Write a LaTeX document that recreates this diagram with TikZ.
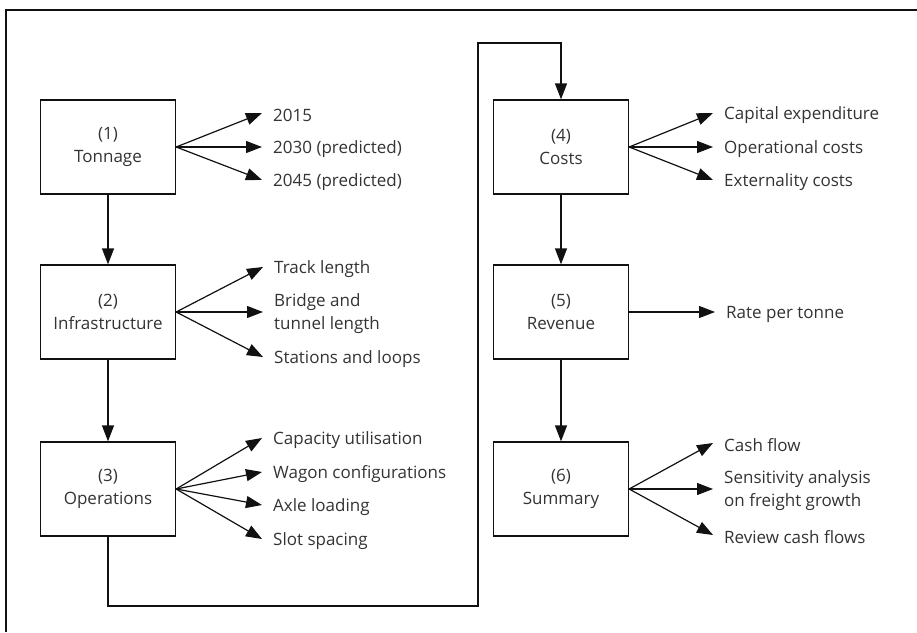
\documentclass[tikz,border=0pt]{standalone}
\usepackage{fontspec}
\setmainfont{Open Sans}
\usetikzlibrary{arrows.meta}
\definecolor{txt}{HTML}{333333}
\definecolor{ln}{HTML}{111111}
\begin{document}
\begin{tikzpicture}[x=1pt,y=-1pt,
  font=\fontsize{17}{23}\selectfont,
  stage/.style={draw=ln,line width=1.3pt,minimum width=135pt,minimum height=94pt,
    align=center,text=txt,inner sep=0pt},
  item/.style={anchor=west,align=left,text=txt,inner xsep=11pt,inner ysep=0pt,yshift=-2pt},
  arr/.style={draw=ln,line width=1.3pt,-{Triangle[length=16pt,width=12pt]}},
  fan/.style={draw=ln,line width=1.2pt,-{Triangle[length=16pt,width=12pt]}}]
\useasboundingbox (0,0) rectangle (917,632);
% frame
\draw[ln,line width=1.4pt] (6,632) -- (6,10) -- (917,10);

% stages
\node[stage] (b1) at (108,147) {(1)\\Tonnage};
\node[stage] (b2) at (108,312) {(2)\\Infrastructure};
\node[stage] (b3) at (108,489) {(3)\\Operations};
\node[stage] (b4) at (561,147) {(4)\\Costs};
\node[stage] (b5) at (561,312) {(5)\\Revenue};
\node[stage] (b6) at (561,489) {(6)\\Summary};

% items
\node[item] (t11) at (262,113) {2015};
\node[item] (t12) at (262,147) {2030 (predicted)};
\node[item] (t13) at (262,180) {2045 (predicted)};

\node[item] (t21) at (263,267) {Track length};
\node[item] (t22) at (263,312) {Bridge and\\tunnel length};
\node[item] (t23) at (263,357) {Stations and loops};

\node[item] (t31) at (262,438) {Capacity utilisation};
\node[item] (t32) at (262,472) {Wagon configurations};
\node[item] (t33) at (262,505) {Axle loading};
\node[item] (t34) at (262,539) {Slot spacing};

\node[item] (t41) at (713,113) {Capital expenditure};
\node[item] (t42) at (713,147) {Operational costs};
\node[item] (t43) at (713,180) {Externality costs};

\node[item] (t51) at (715,312) {Rate per tonne};

\node[item] (t61) at (713,443) {Cash flow};
\node[item] (t62) at (713,489) {Sensitivity analysis\\on freight growth};
\node[item] (t63) at (713,535) {Review cash flows};

% fans
\foreach \b/\list in {b1/{t11,t12,t13},b2/{t21,t22,t23},b3/{t31,t32,t33,t34},
                      b4/{t41,t42,t43},b5/{t51},b6/{t61,t62,t63}}
  \foreach \t in \list
    \draw[fan] (\b.east) -- ([yshift=2pt]\t.west);

% main flow
\draw[arr] (b1) -- (b2);
\draw[arr] (b2) -- (b3);
\draw[arr] (b4) -- (b5);
\draw[arr] (b5) -- (b6);
\coordinate (lb) at (478,606);
\coordinate (lt) at (478,43);
\draw[arr] (b3.south) |- (lb) -- (lt) -| (b4.north);
\end{tikzpicture}
\end{document}
